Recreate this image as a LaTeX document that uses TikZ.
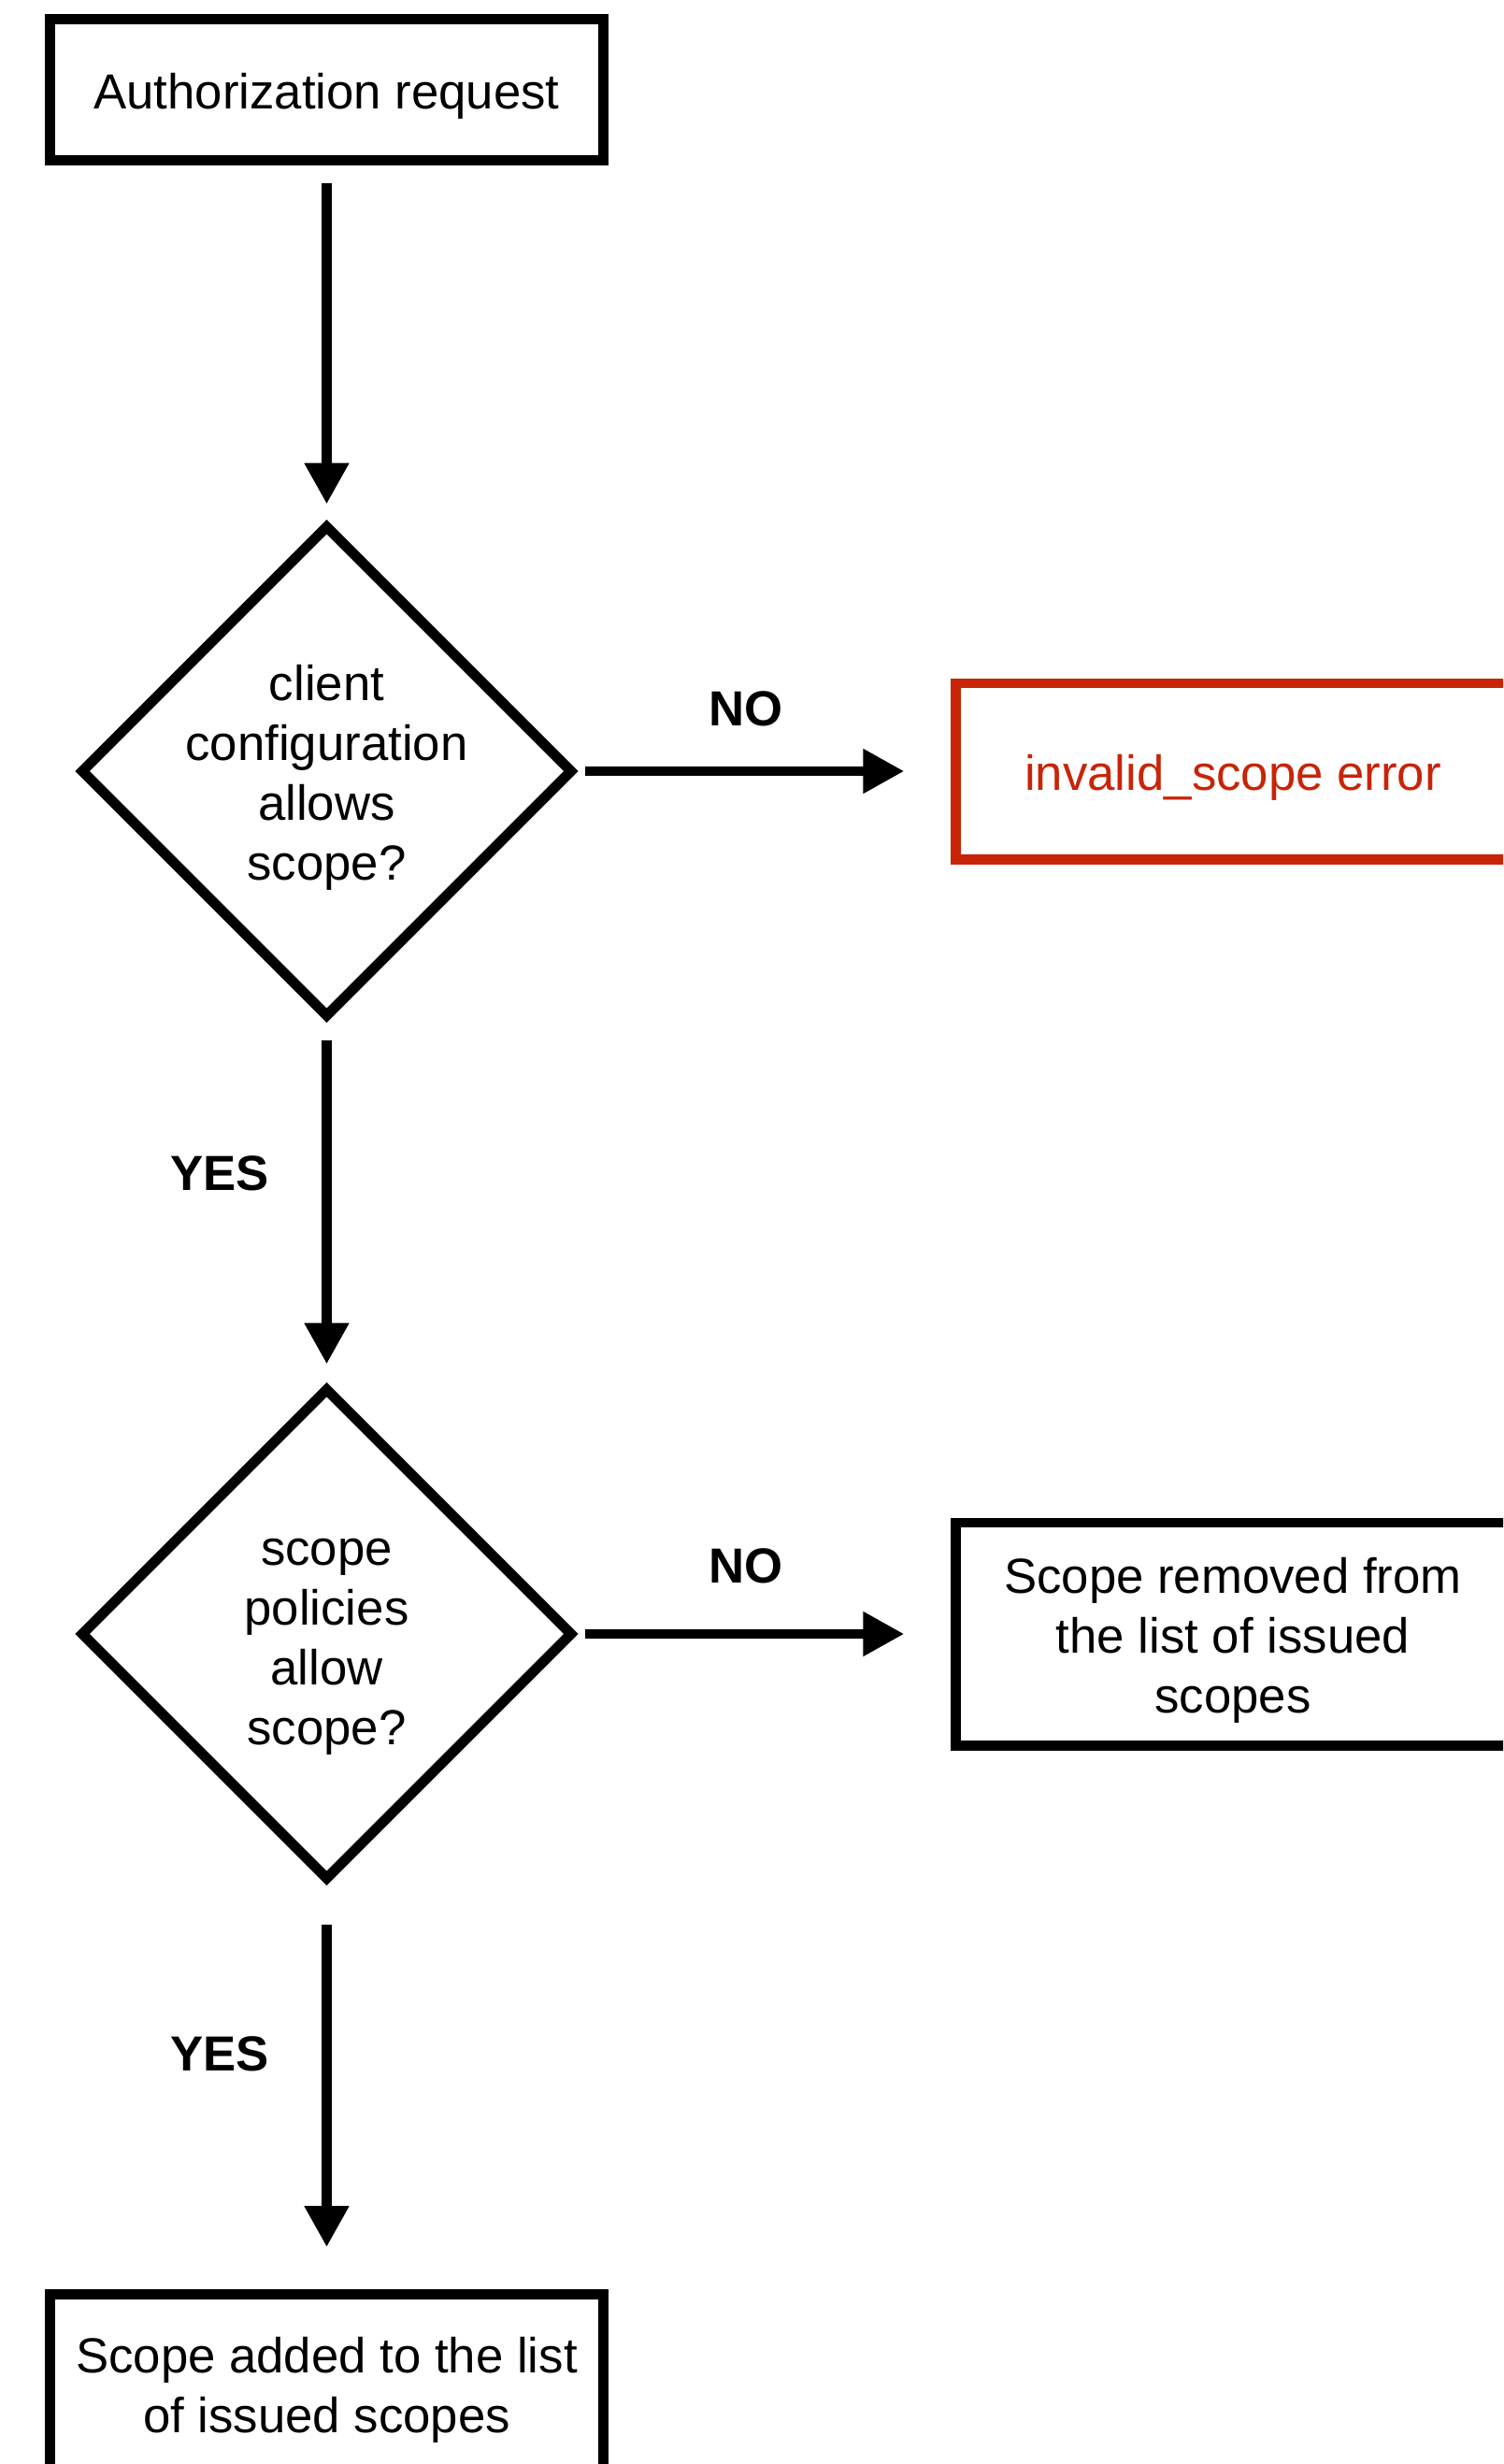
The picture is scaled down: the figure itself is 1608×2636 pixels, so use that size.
\documentclass[tikz,border=0pt]{standalone}
\usepackage{fontspec}
\setmainfont{Liberation Sans}
\usetikzlibrary{shapes.geometric,arrows.meta}
\definecolor{errred}{RGB}{200,36,8}

\begin{document}
\begin{tikzpicture}[x=0.01cm,y=-0.01cm,
  font=\fontsize{15}{18.2}\selectfont,
  box/.style={draw,line width=3.1pt,minimum width=5.92cm,inner sep=0pt},
  dia/.style={draw,diamond,aspect=1,line width=3.1pt,minimum size=5.27cm,inner sep=0pt},
  txt/.style={anchor=center,align=center,yshift=-0.07cm},
  flow/.style={line width=3.1pt,-{Triangle[length=4.4mm,width=4.5mm]}},
  yesno/.style={font=\fontsize{15}{18.2}\selectfont\bfseries}]

\clip (0,0) rectangle (1608,2636);

\node[box,minimum height=1.51cm,label={[txt]center:Authorization request}] (req) at (349.5,96) {};

\node[dia,label={[txt]center:client\\configuration\\allows\\scope?}] (d1) at (349.5,825) {};
\node[dia,label={[txt,yshift=-0.07cm]center:scope\\policies\\allow\\scope?}] (d2) at (349.5,1748) {};

\node[box,draw=errred,minimum height=1.88cm,label={[txt,text=errred]center:invalid\_scope error}] (err) at (1319,825) {};
\node[box,minimum height=2.38cm,label={[txt]center:Scope removed from\\the list of issued\\scopes}] (removed) at (1319,1748) {};
\node[box,minimum height=1.91cm,label={[txt]center:Scope added to the list\\of issued scopes}] (added) at (349.5,2550) {};

\draw[flow,shorten <=0.185cm,shorten >=0.165cm] (req) -- (d1);
\draw[flow,shorten <=0.185cm,shorten >=0.195cm] (d1) -- (d2);
\draw[flow,shorten <=0.415cm,shorten >=0.45cm] (d2) -- (added);
\draw[flow,shorten <=0.075cm,shorten >=0.5cm] (d1.east) -- (err.west);
\draw[flow,shorten <=0.075cm,shorten >=0.5cm] (d2.east) -- (removed.west);

\node[yesno] (no1) at (798,758) {NO};
\node[yesno] (no2) at (798,1675) {NO};
\node[yesno] (yes1) at (235,1255) {YES};
\node[yesno] (yes2) at (235,2197) {YES};

\end{tikzpicture}
\end{document}
